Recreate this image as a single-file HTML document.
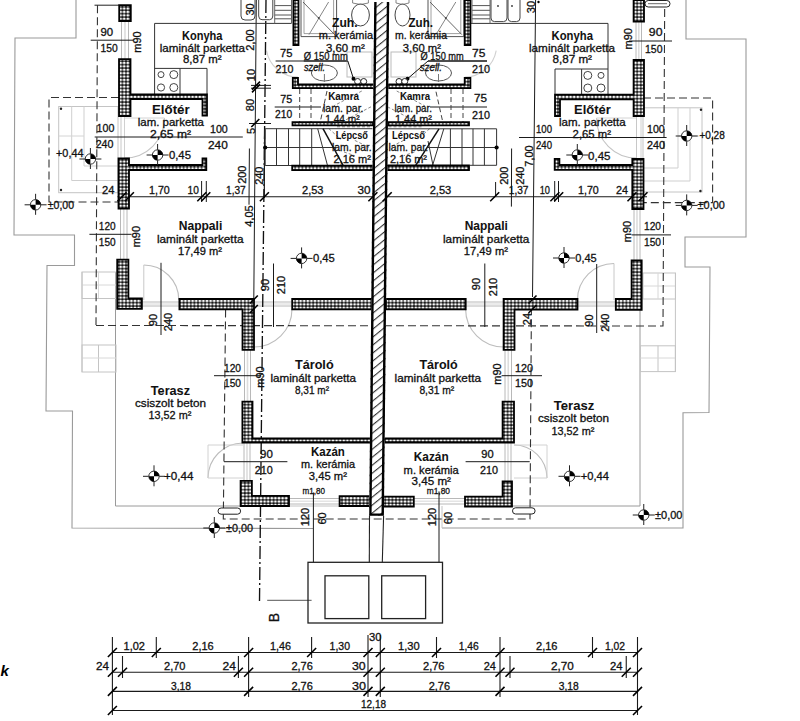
<!DOCTYPE html><html><head><meta charset="utf-8"><style>html,body{margin:0;padding:0;background:#fff;width:800px;height:721px;overflow:hidden;position:relative}</style></head><body><svg width="800" height="721" viewBox="0 0 800 721" style="position:absolute;left:0;top:0">
<defs><pattern id="hat" width="3.6" height="3.4" patternUnits="userSpaceOnUse"><rect width="3.6" height="3.4" fill="#111"/><ellipse cx="1.8" cy="1.7" rx="1.45" ry="1.3" fill="#fafafa"/></pattern><pattern id="diag" width="6.2" height="6.2" patternUnits="userSpaceOnUse" patternTransform="rotate(-39)"><rect width="6.2" height="6.2" fill="#fff"/><rect x="0" y="0" width="6.2" height="1.1" fill="#333"/></pattern></defs>
<rect width="800" height="721" fill="#fff"/>
<g font-family="Liberation Sans, sans-serif">
<polyline points="76,0 76,38 15,38 14,235 74.5,235 74.5,265.5 47,265.5 46,411 72.5,411 72,528 313,528.5" fill="none" stroke="#9a9a9a" stroke-width="1.1"/>
<polyline points="442,528 683,528 683,412.8 709,412.5 710,267 685,267 685,237 746,237 746,39 686,39 686,0" fill="none" stroke="#9a9a9a" stroke-width="1.1"/>
<polyline points="115.5,272 115.5,506 240,506" fill="none" stroke="#9a9a9a" stroke-width="1"/>
<polyline points="512,506 640,506 640,272" fill="none" stroke="#9a9a9a" stroke-width="1"/>
<line x1="289" y1="506" x2="340" y2="506" stroke="#c4c4c4" stroke-width="1"/>
<rect x="58.7" y="106.5" width="59.3" height="86.19999999999999" fill="none" stroke="#c4c4c4" stroke-width="1"/>
<rect x="643" y="107.8" width="59" height="84.2" fill="none" stroke="#c4c4c4" stroke-width="1"/>
<circle cx="61" cy="108.8" r="1.2" fill="#222"/><circle cx="61" cy="190" r="1.2" fill="#222"/>
<circle cx="701" cy="109.7" r="1.2" fill="#222"/><circle cx="700.4" cy="191" r="1.2" fill="#222"/>
<polyline points="71.7,106.5 71.7,180.5 118,180.5" fill="none" stroke="#cfcfcf" stroke-width="1"/>
<polyline points="84,106.5 84,166 118,166" fill="none" stroke="#cfcfcf" stroke-width="1"/>
<line x1="58.7" y1="136" x2="84" y2="136" stroke="#d4d4d4" stroke-width="1"/>
<polyline points="690,107.8 690,181 643,181" fill="none" stroke="#cfcfcf" stroke-width="1"/>
<polyline points="678,107.8 678,168 643,168" fill="none" stroke="#cfcfcf" stroke-width="1"/>
<line x1="678" y1="136" x2="702" y2="136" stroke="#d4d4d4" stroke-width="1"/>
<rect x="82" y="272" width="34" height="26.5" fill="none" stroke="#c4c4c4" stroke-width="1"/>
<rect x="82" y="345" width="34" height="27" fill="none" stroke="#c4c4c4" stroke-width="1"/>
<line x1="98.5" y1="345" x2="98.5" y2="372" stroke="#c4c4c4" stroke-width="1"/>
<line x1="82" y1="358" x2="116" y2="358" stroke="#d8d8d8" stroke-width="1"/>
<line x1="98.5" y1="272" x2="98.5" y2="298" stroke="#d8d8d8" stroke-width="1"/>
<line x1="82" y1="285" x2="116" y2="285" stroke="#d8d8d8" stroke-width="1"/>
<rect x="643" y="273" width="32.5" height="26" fill="none" stroke="#c4c4c4" stroke-width="1"/>
<rect x="640.5" y="345.8" width="34.89999999999998" height="25.80000000000001" fill="none" stroke="#c4c4c4" stroke-width="1"/>
<line x1="658" y1="345.8" x2="658" y2="371.6" stroke="#c4c4c4" stroke-width="1"/>
<line x1="640.5" y1="358" x2="675.4" y2="358" stroke="#d8d8d8" stroke-width="1"/>
<line x1="658" y1="273" x2="658" y2="299" stroke="#d8d8d8" stroke-width="1"/>
<line x1="643" y1="286" x2="675.5" y2="286" stroke="#d8d8d8" stroke-width="1"/>
<line x1="82" y1="272" x2="82" y2="372" stroke="#c4c4c4" stroke-width="1"/>
<line x1="675.4" y1="273" x2="675.4" y2="372" stroke="#c4c4c4" stroke-width="1"/>
<polyline points="442,506 442,528" fill="none" stroke="#c4c4c4" stroke-width="1"/>
<line x1="121.5" y1="21" x2="121.5" y2="59.2" stroke="#b8b8b8" stroke-width="1"/>
<line x1="128.5" y1="21" x2="128.5" y2="59.2" stroke="#b8b8b8" stroke-width="1"/>
<line x1="125.0" y1="21" x2="125.0" y2="59.2" stroke="#dddddd" stroke-width="1.6"/>
<line x1="121" y1="116" x2="121" y2="158.5" stroke="#c8c8c8" stroke-width="1"/>
<line x1="124.5" y1="116" x2="124.5" y2="158.5" stroke="#d0d0d0" stroke-width="1"/>
<line x1="120.5" y1="209" x2="120.5" y2="259.7" stroke="#b8b8b8" stroke-width="1"/>
<line x1="127" y1="209" x2="127" y2="259.7" stroke="#b8b8b8" stroke-width="1"/>
<line x1="123.75" y1="209" x2="123.75" y2="259.7" stroke="#dddddd" stroke-width="1.6"/>
<line x1="636" y1="21.6" x2="636" y2="60" stroke="#b8b8b8" stroke-width="1"/>
<line x1="641.5" y1="21.6" x2="641.5" y2="60" stroke="#b8b8b8" stroke-width="1"/>
<line x1="638.75" y1="21.6" x2="638.75" y2="60" stroke="#dddddd" stroke-width="1.6"/>
<line x1="636.5" y1="116" x2="636.5" y2="159" stroke="#c8c8c8" stroke-width="1"/>
<line x1="641" y1="116" x2="641" y2="159" stroke="#d0d0d0" stroke-width="1"/>
<line x1="634" y1="209" x2="634" y2="260.3" stroke="#b8b8b8" stroke-width="1"/>
<line x1="640" y1="209" x2="640" y2="260.3" stroke="#b8b8b8" stroke-width="1"/>
<line x1="637.0" y1="209" x2="637.0" y2="260.3" stroke="#dddddd" stroke-width="1.6"/>
<line x1="244.5" y1="349.8" x2="244.5" y2="401.6" stroke="#b8b8b8" stroke-width="1"/>
<line x1="250.5" y1="349.8" x2="250.5" y2="401.6" stroke="#b8b8b8" stroke-width="1"/>
<line x1="247.5" y1="349.8" x2="247.5" y2="401.6" stroke="#dddddd" stroke-width="1.6"/>
<line x1="244" y1="442.5" x2="244" y2="481" stroke="#b8b8b8" stroke-width="1"/>
<line x1="250" y1="442.5" x2="250" y2="481" stroke="#b8b8b8" stroke-width="1"/>
<line x1="247.0" y1="442.5" x2="247.0" y2="481" stroke="#dddddd" stroke-width="1.6"/>
<line x1="505" y1="349.8" x2="505" y2="401.6" stroke="#b8b8b8" stroke-width="1"/>
<line x1="511.5" y1="349.8" x2="511.5" y2="401.6" stroke="#b8b8b8" stroke-width="1"/>
<line x1="508.25" y1="349.8" x2="508.25" y2="401.6" stroke="#dddddd" stroke-width="1.6"/>
<line x1="505" y1="442.5" x2="505" y2="481.3" stroke="#b8b8b8" stroke-width="1"/>
<line x1="511" y1="442.5" x2="511" y2="481.3" stroke="#b8b8b8" stroke-width="1"/>
<line x1="508.0" y1="442.5" x2="508.0" y2="481.3" stroke="#dddddd" stroke-width="1.6"/>
<line x1="289" y1="498.5" x2="339.6" y2="498.5" stroke="#b8b8b8" stroke-width="1"/>
<line x1="289" y1="504" x2="339.6" y2="504" stroke="#b8b8b8" stroke-width="1"/>
<line x1="289" y1="501.25" x2="339.6" y2="501.25" stroke="#e4e4e4" stroke-width="1.6"/>
<line x1="413.8" y1="498.5" x2="465" y2="498.5" stroke="#b8b8b8" stroke-width="1"/>
<line x1="413.8" y1="504" x2="465" y2="504" stroke="#b8b8b8" stroke-width="1"/>
<line x1="413.8" y1="501.25" x2="465" y2="501.25" stroke="#e4e4e4" stroke-width="1.6"/>
<line x1="141.9" y1="302" x2="179.4" y2="302" stroke="#b8b8b8" stroke-width="1"/>
<line x1="141.9" y1="306" x2="179.4" y2="306" stroke="#b8b8b8" stroke-width="1"/>
<line x1="141.9" y1="304.0" x2="179.4" y2="304.0" stroke="#e4e4e4" stroke-width="1.6"/>
<line x1="254" y1="302" x2="292.2" y2="302" stroke="#b8b8b8" stroke-width="1"/>
<line x1="254" y1="306" x2="292.2" y2="306" stroke="#b8b8b8" stroke-width="1"/>
<line x1="254" y1="304.0" x2="292.2" y2="304.0" stroke="#e4e4e4" stroke-width="1.6"/>
<line x1="465.7" y1="302" x2="503.6" y2="302" stroke="#b8b8b8" stroke-width="1"/>
<line x1="465.7" y1="306" x2="503.6" y2="306" stroke="#b8b8b8" stroke-width="1"/>
<line x1="465.7" y1="304.0" x2="503.6" y2="304.0" stroke="#e4e4e4" stroke-width="1.6"/>
<line x1="577.5" y1="302" x2="615.8" y2="302" stroke="#b8b8b8" stroke-width="1"/>
<line x1="577.5" y1="306" x2="615.8" y2="306" stroke="#b8b8b8" stroke-width="1"/>
<line x1="577.5" y1="304.0" x2="615.8" y2="304.0" stroke="#e4e4e4" stroke-width="1.6"/>
<path d="M143.8,265.0 A35,35 0 0 1 178.8,300.0" fill="none" stroke="#bdbdbd" stroke-width="1.1"/>
<line x1="143.8" y1="265" x2="143.8" y2="300" stroke="#c8c8c8" stroke-width="1"/>
<path d="M577.5,300.0 A36.5,36.5 0 0 1 614.0,263.5" fill="none" stroke="#bdbdbd" stroke-width="1.1"/>
<line x1="614" y1="263.5" x2="614" y2="300" stroke="#c8c8c8" stroke-width="1"/>
<path d="M292.0,309.0 A38,38 0 0 1 254.0,347.0" fill="none" stroke="#bdbdbd" stroke-width="1.1"/>
<path d="M503.6,347.0 A38,38 0 0 1 465.6,309.0" fill="none" stroke="#bdbdbd" stroke-width="1.1"/>
<path d="M208.0,478.0 A35,35 0 0 1 243.0,443.0" fill="none" stroke="#bdbdbd" stroke-width="1.1"/>
<polyline points="243,445 208,445 208,478 243,478" fill="none" stroke="#d2d2d2" stroke-width="1"/>
<path d="M514.0,445.0 A33,33 0 0 1 547.0,478.0" fill="none" stroke="#bdbdbd" stroke-width="1.1"/>
<polyline points="514,445 547,445 547,478 514,478" fill="none" stroke="#d2d2d2" stroke-width="1"/>
<path d="M164.5,118.0 A40,40 0 0 1 124.5,158.0" fill="none" stroke="#c4c4c4" stroke-width="1.1"/>
<line x1="124.5" y1="118" x2="164.5" y2="118" stroke="#d4d4d4" stroke-width="1"/>
<path d="M636.5,158.0 A40,40 0 0 1 596.5,118.0" fill="none" stroke="#c4c4c4" stroke-width="1.1"/>
<line x1="596.5" y1="118" x2="636.5" y2="118" stroke="#d4d4d4" stroke-width="1"/>
<path d="M298.0,77.0 A32,32 0 0 1 266.5,50.6" fill="none" stroke="#d0d0d0" stroke-width="1.1"/>
<path d="M496.2,50.6 A32,32 0 0 1 464.7,77.0" fill="none" stroke="#d0d0d0" stroke-width="1.1"/>
<line x1="97.5" y1="5.2" x2="96" y2="325" stroke="#333" stroke-width="1.1" stroke-dasharray="8,4"/>
<line x1="94.5" y1="5.2" x2="119" y2="5.2" stroke="#222" stroke-width="1"/>
<polyline points="119,97.5 49,97.5 49,202 118,202" fill="none" stroke="#333" stroke-width="1.1" stroke-dasharray="8,4"/>
<polyline points="96,325.5 663,326 664.7,0" fill="none" stroke="#333" stroke-width="1.1" stroke-dasharray="8,4"/>
<polyline points="643,98 712.6,98 712.6,202.6 643,202.6" fill="none" stroke="#333" stroke-width="1.1" stroke-dasharray="8,4"/>
<polyline points="225.6,309.4 223.3,519 530,519 531.4,309.6" fill="none" stroke="#333" stroke-width="1.1" stroke-dasharray="8,4"/>
<line x1="266" y1="0" x2="259.5" y2="601" stroke="#111" stroke-width="1.35" stroke-dasharray="13,3,2,3"/>
<line x1="267.2" y1="600.3" x2="311.6" y2="600.3" stroke="#555" stroke-width="1"/>
<line x1="256.3" y1="0" x2="253.8" y2="299" stroke="#1a1a1a" stroke-width="1"/>
<line x1="535.6" y1="0" x2="532.5" y2="297" stroke="#1a1a1a" stroke-width="1"/>
<circle cx="538.5" cy="2" r="1.2" fill="#000"/>
<line x1="249.4" y1="148.5" x2="249" y2="204.7" stroke="#1a1a1a" stroke-width="1"/>
<line x1="264.6" y1="129.7" x2="264.3" y2="198" stroke="#1a1a1a" stroke-width="1.2"/>
<line x1="511.6" y1="148.5" x2="511.4" y2="206.6" stroke="#1a1a1a" stroke-width="1"/>
<line x1="495.6" y1="182" x2="495.6" y2="196.7" stroke="#1a1a1a" stroke-width="1"/>
<line x1="161" y1="262.8" x2="161" y2="335" stroke="#1a1a1a" stroke-width="1"/>
<line x1="596.7" y1="264" x2="596.7" y2="333" stroke="#1a1a1a" stroke-width="1"/>
<line x1="273.5" y1="263.5" x2="273.5" y2="327" stroke="#1a1a1a" stroke-width="1"/>
<line x1="484.8" y1="263.5" x2="484.8" y2="327" stroke="#1a1a1a" stroke-width="1"/>
<line x1="313.4" y1="492.5" x2="313.4" y2="562.3" stroke="#1a1a1a" stroke-width="1"/>
<line x1="439" y1="491.4" x2="439" y2="562.3" stroke="#1a1a1a" stroke-width="1"/>
<line x1="90.7" y1="40.2" x2="133.5" y2="40.2" stroke="#1a1a1a" stroke-width="1"/>
<line x1="629" y1="41" x2="672" y2="41" stroke="#1a1a1a" stroke-width="1"/>
<line x1="94.7" y1="137" x2="242.8" y2="137" stroke="#1a1a1a" stroke-width="1"/>
<line x1="519" y1="137.5" x2="666.6" y2="137.5" stroke="#1a1a1a" stroke-width="1"/>
<line x1="89.4" y1="234.3" x2="131.6" y2="234.3" stroke="#1a1a1a" stroke-width="1"/>
<line x1="631.6" y1="234.9" x2="671" y2="234.9" stroke="#1a1a1a" stroke-width="1"/>
<line x1="275.6" y1="61" x2="347.8" y2="61" stroke="#1a1a1a" stroke-width="1"/>
<line x1="428" y1="61" x2="487" y2="61" stroke="#1a1a1a" stroke-width="1"/>
<line x1="274.7" y1="107" x2="321" y2="107" stroke="#1a1a1a" stroke-width="1"/>
<line x1="430" y1="107" x2="487" y2="107" stroke="#1a1a1a" stroke-width="1"/>
<line x1="117.5" y1="196.7" x2="647" y2="196.7" stroke="#1a1a1a" stroke-width="1.1"/>
<line x1="214" y1="375.7" x2="261" y2="375.7" stroke="#1a1a1a" stroke-width="1"/>
<line x1="501.6" y1="375.7" x2="542" y2="375.7" stroke="#1a1a1a" stroke-width="1"/>
<line x1="224" y1="461.7" x2="287.4" y2="461.7" stroke="#1a1a1a" stroke-width="1"/>
<line x1="465.6" y1="461.7" x2="529.7" y2="461.7" stroke="#1a1a1a" stroke-width="1"/>
<line x1="201.6" y1="181" x2="201.6" y2="202" stroke="#1a1a1a" stroke-width="1"/>
<line x1="206.3" y1="181" x2="206.3" y2="202" stroke="#1a1a1a" stroke-width="1"/>
<line x1="554.7" y1="181" x2="554.7" y2="202" stroke="#1a1a1a" stroke-width="1"/>
<line x1="558.5" y1="181" x2="558.5" y2="202" stroke="#1a1a1a" stroke-width="1"/>
<line x1="251" y1="85.4" x2="271" y2="85.4" stroke="#1a1a1a" stroke-width="1"/>
<line x1="251" y1="88.2" x2="271" y2="88.2" stroke="#1a1a1a" stroke-width="1"/>
<line x1="249" y1="123.5" x2="271" y2="123.5" stroke="#1a1a1a" stroke-width="1"/>
<polyline points="154.6,94 154.6,23.4 291.5,23.4" fill="none" stroke="#333" stroke-width="1"/>
<polyline points="154.6,68.4 207,68.4 207,94" fill="none" stroke="#333" stroke-width="1"/>
<line x1="180" y1="68.4" x2="180" y2="94" stroke="#333" stroke-width="1"/>
<circle cx="161" cy="74.6" r="3" fill="none" stroke="#444" stroke-width="1"/>
<circle cx="173.8" cy="74.6" r="4" fill="none" stroke="#444" stroke-width="1"/>
<circle cx="161" cy="87.5" r="3.6" fill="none" stroke="#444" stroke-width="1"/>
<circle cx="173.8" cy="87.5" r="4" fill="none" stroke="#444" stroke-width="1"/>
<path d="M241,0 L241,16 Q241,20 245,20 L251,20 Q255,20 255,16 L255,0" fill="none" stroke="#444" stroke-width="1"/>
<path d="M258.7,0 L258.7,16 Q258.7,19.7 262,19.7 L269.5,19.7 Q272.8,19.7 272.8,16 L272.8,0" fill="none" stroke="#444" stroke-width="1"/>
<line x1="274.7" y1="5.6" x2="291.5" y2="5.6" stroke="#555" stroke-width="1"/>
<line x1="274.7" y1="10.3" x2="291.5" y2="10.3" stroke="#555" stroke-width="1"/>
<line x1="274.7" y1="15" x2="291.5" y2="15" stroke="#555" stroke-width="1"/>
<line x1="274.7" y1="18.8" x2="291.5" y2="18.8" stroke="#555" stroke-width="1"/>
<line x1="274.7" y1="0" x2="274.7" y2="23.4" stroke="#666" stroke-width="1"/>
<line x1="291.5" y1="0" x2="291.5" y2="23.4" stroke="#666" stroke-width="1"/>
<polyline points="470,23.4 608,23.4 608,94" fill="none" stroke="#333" stroke-width="1"/>
<polyline points="555,94 555,69 608,69" fill="none" stroke="#333" stroke-width="1"/>
<line x1="581.6" y1="69" x2="581.6" y2="94" stroke="#333" stroke-width="1"/>
<circle cx="587.8" cy="75.4" r="4" fill="none" stroke="#444" stroke-width="1"/>
<circle cx="601" cy="75.4" r="3" fill="none" stroke="#444" stroke-width="1"/>
<circle cx="587.8" cy="88" r="4" fill="none" stroke="#444" stroke-width="1"/>
<circle cx="601" cy="88" r="4" fill="none" stroke="#444" stroke-width="1"/>
<line x1="472" y1="5.6" x2="490" y2="5.6" stroke="#555" stroke-width="1"/>
<line x1="472" y1="10.3" x2="490" y2="10.3" stroke="#555" stroke-width="1"/>
<line x1="472" y1="15" x2="490" y2="15" stroke="#555" stroke-width="1"/>
<line x1="472" y1="18.8" x2="490" y2="18.8" stroke="#555" stroke-width="1"/>
<line x1="472" y1="0" x2="472" y2="23.4" stroke="#666" stroke-width="1"/>
<line x1="490" y1="0" x2="490" y2="23.4" stroke="#666" stroke-width="1"/>
<path d="M491,0 L491,18 Q491,21.6 494.5,21.6 L503.5,21.6 Q507,21.6 507,18 L507,0" fill="none" stroke="#444" stroke-width="1"/>
<path d="M508,0 L508,18 Q508,21.6 511.5,21.6 L516.5,21.6 Q520,21.6 520,18 L520,0" fill="none" stroke="#444" stroke-width="1"/>
<circle cx="498" cy="6" r="0.9" fill="#333"/><circle cx="512" cy="6" r="0.9" fill="#333"/>
<rect x="645" y="0.5" width="25" height="6.5" rx="3.2" fill="#fff" stroke="#222" stroke-width="1"/>
<line x1="648" y1="3.7" x2="667" y2="3.7" stroke="#444" stroke-width="0.8"/>
<rect x="218" y="508" width="22.6" height="6.2" rx="3.1" fill="#fff" stroke="#222" stroke-width="1"/>
<rect x="512.5" y="507.8" width="22.6" height="6.2" rx="3.1" fill="#fff" stroke="#222" stroke-width="1"/>
<path d="M301,0 L301,36.6 L336.6,36.6 L336.6,0" fill="none" stroke="#555" stroke-width="1"/>
<path d="M304,0 L304,33.6 L333.6,33.6 L333.6,0" fill="none" stroke="#888" stroke-width="0.8"/>
<line x1="303" y1="2" x2="334.6" y2="34.6" stroke="#555" stroke-width="0.9"/>
<line x1="328.6" y1="2" x2="309" y2="34.6" stroke="#777" stroke-width="0.9"/>
<circle cx="318.8" cy="18" r="1" fill="#444"/>
<path d="M428,0 L428,36.6 L463.8,36.6 L463.8,0" fill="none" stroke="#555" stroke-width="1"/>
<path d="M431,0 L431,33.6 L460.8,33.6 L460.8,0" fill="none" stroke="#888" stroke-width="0.8"/>
<line x1="430" y1="2" x2="461.8" y2="34.6" stroke="#555" stroke-width="0.9"/>
<line x1="455.8" y1="2" x2="436" y2="34.6" stroke="#777" stroke-width="0.9"/>
<circle cx="445.9" cy="18" r="1" fill="#444"/>
<ellipse cx="360.5" cy="15" rx="8.899999999999977" ry="11" fill="none" stroke="#444" stroke-width="1"/>
<path d="M352.6,0 L352.6,3 Q360.5,6 368.4,3 L368.4,0" fill="none" stroke="#777" stroke-width="0.9"/>
<ellipse cx="402.5" cy="15" rx="7.5" ry="11" fill="none" stroke="#444" stroke-width="1"/>
<path d="M396,0 L396,3 Q402.5,6 409,3 L409,0" fill="none" stroke="#777" stroke-width="0.9"/>
<ellipse cx="324.4" cy="73" rx="13" ry="8" fill="none" stroke="#555" stroke-width="1"/>
<line x1="324.4" y1="74" x2="324.4" y2="82" stroke="#777" stroke-width="1"/>
<ellipse cx="438.5" cy="73" rx="13" ry="8" fill="none" stroke="#555" stroke-width="1"/>
<line x1="438.5" y1="74" x2="438.5" y2="82" stroke="#777" stroke-width="1"/>
<rect x="347" y="52" width="25" height="25" fill="none" stroke="#bbb" stroke-width="1"/>
<rect x="391" y="52" width="25" height="25" fill="none" stroke="#bbb" stroke-width="1"/>
<polyline points="303.8,61 347.8,61 353.5,78.8" fill="none" stroke="#111" stroke-width="1"/>
<polyline points="487,61 428,61 407.5,78.8" fill="none" stroke="#111" stroke-width="1"/>
<circle cx="353.5" cy="78.8" r="2" fill="#000"/><circle cx="407.5" cy="78.8" r="2" fill="#000"/>
<circle cx="357.6" cy="81.5" r="3" fill="#fff" stroke="#222" stroke-width="1"/>
<circle cx="363.7" cy="81.5" r="3" fill="#fff" stroke="#222" stroke-width="1"/>
<circle cx="399" cy="81.5" r="3" fill="#fff" stroke="#222" stroke-width="1"/>
<circle cx="404.7" cy="81.5" r="3" fill="#fff" stroke="#222" stroke-width="1"/>
<line x1="299.7" y1="89" x2="299.7" y2="122" stroke="#444" stroke-width="1" stroke-dasharray="5,3"/>
<line x1="311" y1="89" x2="311" y2="122" stroke="#444" stroke-width="1" stroke-dasharray="5,3"/>
<line x1="451" y1="89" x2="451" y2="122" stroke="#444" stroke-width="1" stroke-dasharray="5,3"/>
<line x1="463" y1="89" x2="463" y2="122" stroke="#444" stroke-width="1" stroke-dasharray="5,3"/>
<line x1="327" y1="91" x2="320" y2="123" stroke="#444" stroke-width="1" stroke-dasharray="5,3"/>
<line x1="436" y1="91.7" x2="443" y2="123" stroke="#444" stroke-width="1" stroke-dasharray="5,3"/>
<line x1="361.8" y1="91" x2="333.5" y2="106" stroke="#8a8a8a" stroke-width="1" stroke-dasharray="3,2"/>
<line x1="396.7" y1="91" x2="425.0" y2="106" stroke="#8a8a8a" stroke-width="1" stroke-dasharray="3,2"/>
<line x1="371" y1="106.8" x2="345" y2="120.3" stroke="#8a8a8a" stroke-width="1" stroke-dasharray="3,2"/>
<line x1="387.5" y1="106.8" x2="413.5" y2="120.3" stroke="#8a8a8a" stroke-width="1" stroke-dasharray="3,2"/>
<line x1="337" y1="126.8" x2="372" y2="126.8" stroke="#8a8a8a" stroke-width="1" stroke-dasharray="3,2"/>
<line x1="421.5" y1="126.8" x2="386.5" y2="126.8" stroke="#8a8a8a" stroke-width="1" stroke-dasharray="3,2"/>
<line x1="328.8" y1="128.6" x2="340.6" y2="139.2" stroke="#8a8a8a" stroke-width="1" stroke-dasharray="3,2"/>
<line x1="429.7" y1="128.6" x2="417.9" y2="139.2" stroke="#8a8a8a" stroke-width="1" stroke-dasharray="3,2"/>
<line x1="354.8" y1="140.4" x2="368.9" y2="147.4" stroke="#8a8a8a" stroke-width="1" stroke-dasharray="3,2"/>
<line x1="403.7" y1="140.4" x2="389.6" y2="147.4" stroke="#8a8a8a" stroke-width="1" stroke-dasharray="3,2"/>
<line x1="344" y1="152" x2="354.8" y2="155.7" stroke="#8a8a8a" stroke-width="1" stroke-dasharray="3,2"/>
<line x1="414.5" y1="152" x2="403.7" y2="155.7" stroke="#8a8a8a" stroke-width="1" stroke-dasharray="3,2"/>
<polyline points="292,128.7 265.2,128.7 265.2,165.5 292,165.5" fill="none" stroke="#333" stroke-width="1"/>
<line x1="265.2" y1="147.5" x2="336" y2="147.5" stroke="#333" stroke-width="1"/>
<line x1="276.5" y1="128.7" x2="276.5" y2="165.5" stroke="#333" stroke-width="1"/>
<line x1="288.5" y1="128.7" x2="288.5" y2="165.5" stroke="#333" stroke-width="1"/>
<line x1="299.7" y1="128.7" x2="299.7" y2="165.5" stroke="#333" stroke-width="1"/>
<line x1="311.7" y1="128.7" x2="311.7" y2="165.5" stroke="#333" stroke-width="1"/>
<line x1="292" y1="128.7" x2="372.5" y2="128.7" stroke="#333" stroke-width="1"/>
<line x1="317.7" y1="128.7" x2="327.5" y2="165.5" stroke="#333" stroke-width="1"/>
<line x1="323" y1="128.7" x2="343.2" y2="165.5" stroke="#111" stroke-width="1.5"/>
<circle cx="265.2" cy="147.5" r="2.1" fill="#000"/>
<line x1="268" y1="165.5" x2="292" y2="165.5" stroke="#333" stroke-width="1"/>
<polyline points="470,128.8 496.6,128.8 496.6,165.3 470,165.3" fill="none" stroke="#333" stroke-width="1"/>
<line x1="428" y1="147.5" x2="496.6" y2="147.5" stroke="#333" stroke-width="1"/>
<line x1="428" y1="141" x2="433" y2="165.3" stroke="#333" stroke-width="1"/>
<line x1="450.4" y1="128.8" x2="450.4" y2="165.3" stroke="#333" stroke-width="1"/>
<line x1="462" y1="128.8" x2="462" y2="165.3" stroke="#333" stroke-width="1"/>
<line x1="473" y1="128.8" x2="473" y2="165.3" stroke="#333" stroke-width="1"/>
<line x1="484.4" y1="128.8" x2="484.4" y2="165.3" stroke="#333" stroke-width="1"/>
<line x1="387.5" y1="128.8" x2="470" y2="128.8" stroke="#333" stroke-width="1"/>
<line x1="443.8" y1="128.8" x2="432.6" y2="165.3" stroke="#333" stroke-width="1"/>
<line x1="439" y1="128.8" x2="415.7" y2="165.3" stroke="#111" stroke-width="1.5"/>
<circle cx="496.6" cy="147.5" r="2.1" fill="#000"/>
<polygon points="119.2,5.2 130.8,5.2 130.8,21 119.2,21" fill="url(#hat)" stroke="#000" stroke-width="1.8"/>
<polygon points="119,59.2 130.5,59.2 130.5,94.5 207,94.5 207,115.6 202.5,115.6 202.5,99 130.5,99 130.5,116 119,116" fill="url(#hat)" stroke="#000" stroke-width="1.8"/>
<polygon points="118.5,158.5 129,158.5 129,165 202.5,165 202.5,158.4 206.3,158.4 206.3,170 129,170 129,208.6 118.5,208.6" fill="url(#hat)" stroke="#000" stroke-width="1.8"/>
<polygon points="117.2,259.7 128.4,259.7 128.4,298.5 141.9,298.5 141.9,308.8 117.2,308.8" fill="url(#hat)" stroke="#000" stroke-width="1.8"/>
<polygon points="179.4,299 254,299 254,349.8 242.5,349.8 242.5,309.4 179.4,309.4" fill="url(#hat)" stroke="#000" stroke-width="1.8"/>
<polygon points="292.2,299 372,299 372,309.4 292.2,309.4" fill="url(#hat)" stroke="#000" stroke-width="1.8"/>
<polygon points="242.4,401.6 252.5,401.6 252.5,438.5 371,438.5 371,442.5 242.4,442.5" fill="url(#hat)" stroke="#000" stroke-width="1.8"/>
<polygon points="240.6,480.8 251.9,480.8 251.9,495.9 289,495.9 289,506 240.6,506" fill="url(#hat)" stroke="#000" stroke-width="1.8"/>
<polygon points="339.6,496.2 369.5,496.2 369.5,506 339.6,506" fill="url(#hat)" stroke="#000" stroke-width="1.8"/>
<polygon points="293.4,0 298.5,0 298.5,45 293.4,45" fill="url(#hat)" stroke="#000" stroke-width="1.8"/>
<polygon points="292.8,77.8 298,77.8 298,84.4 374,84.4 374,88.2 292.8,88.2" fill="url(#hat)" stroke="#000" stroke-width="1.8"/>
<polygon points="292.5,122.2 373,122.2 373,125.4 292.5,125.4" fill="url(#hat)" stroke="#000" stroke-width="1.8"/>
<polygon points="292.2,165.6 372.7,165.6 372.7,170.2 292.2,170.2" fill="url(#hat)" stroke="#000" stroke-width="1.8"/>
<polygon points="633.6,0 644,0 644,21.6 633.6,21.6" fill="url(#hat)" stroke="#000" stroke-width="1.8"/>
<polygon points="633.6,60 644,60 644,116 633.6,116 633.6,99.4 560,99.4 560,116 555,116 555,94.7 633.6,94.7" fill="url(#hat)" stroke="#000" stroke-width="1.8"/>
<polygon points="632.3,159 643.5,159 643.5,209 632.3,209 632.3,169.9 559.4,169.9 554.7,169.9 554.7,158.8 559.4,158.8 559.4,165 632.3,165" fill="url(#hat)" stroke="#000" stroke-width="1.8"/>
<polygon points="631.6,260.3 641.7,260.3 641.7,309.8 615.8,309.8 615.8,299 631.6,299" fill="url(#hat)" stroke="#000" stroke-width="1.8"/>
<polygon points="503.6,299 577.5,299 577.5,309.6 514.5,309.6 514.5,349.8 503.6,349.8" fill="url(#hat)" stroke="#000" stroke-width="1.8"/>
<polygon points="386,299 465.7,299 465.7,309.4 386,309.4" fill="url(#hat)" stroke="#000" stroke-width="1.8"/>
<polygon points="502.6,401.6 514,401.6 514,442.5 384.5,442.5 384.5,438.5 502.6,438.5" fill="url(#hat)" stroke="#000" stroke-width="1.8"/>
<polygon points="465,496.6 502.6,496.6 502.6,481.3 512,481.3 512,506.5 465,506.5" fill="url(#hat)" stroke="#000" stroke-width="1.8"/>
<polygon points="383,496.6 413.8,496.6 413.8,506.5 383,506.5" fill="url(#hat)" stroke="#000" stroke-width="1.8"/>
<polygon points="464.7,0 470.4,0 470.4,45 464.7,45" fill="url(#hat)" stroke="#000" stroke-width="1.8"/>
<polygon points="464.7,78 470.4,78 470.4,88.2 388.5,88.2 388.5,84.4 464.7,84.4" fill="url(#hat)" stroke="#000" stroke-width="1.8"/>
<polygon points="388,122.2 469,122.2 469,125.4 388,125.4" fill="url(#hat)" stroke="#000" stroke-width="1.8"/>
<polygon points="387.5,165.5 469,165.5 469,170.2 387.5,170.2" fill="url(#hat)" stroke="#000" stroke-width="1.8"/>
<polygon points="374.2,2 389.2,2 383.9,515.8 369.2,515.8" fill="url(#diag)" stroke="none"/>
<polyline points="375.4,2 370.4,514.6 382.7,514.6 388,2" fill="none" stroke="#000" stroke-width="2.4"/>
<line x1="369.5" y1="515.8" x2="369.3" y2="562.3" stroke="#222" stroke-width="1.1"/>
<line x1="383.6" y1="515.8" x2="382.3" y2="562.3" stroke="#222" stroke-width="1.1"/>
<rect x="308" y="562.3" width="134.5" height="60.700000000000045" fill="none" stroke="#222" stroke-width="1.3"/>
<rect x="325" y="575.8" width="43.80000000000001" height="42.80000000000007" fill="none" stroke="#222" stroke-width="1.3"/>
<rect x="381.7" y="575.8" width="43.900000000000034" height="42.80000000000007" fill="none" stroke="#222" stroke-width="1.3"/>
<g><line x1="79.4" y1="159" x2="101.4" y2="159" stroke="#222" stroke-width="1"/><line x1="90.4" y1="148" x2="90.4" y2="169" stroke="#222" stroke-width="1"/><circle cx="90.4" cy="159" r="5.2" fill="#fff" stroke="#333" stroke-width="1"/><path d="M90.4,159 L90.4,153.8 A5.2,5.2 0 0 1 95.60000000000001,159 Z" fill="#000"/><path d="M90.4,159 L90.4,164.2 A5.2,5.2 0 0 1 85.2,159 Z" fill="#000"/></g>
<g><line x1="24.6" y1="204.8" x2="46.6" y2="204.8" stroke="#222" stroke-width="1"/><line x1="35.6" y1="193.8" x2="35.6" y2="214.8" stroke="#222" stroke-width="1"/><circle cx="35.6" cy="204.8" r="5.2" fill="#fff" stroke="#333" stroke-width="1"/><path d="M35.6,204.8 L35.6,199.60000000000002 A5.2,5.2 0 0 1 40.800000000000004,204.8 Z" fill="#000"/><path d="M35.6,204.8 L35.6,210.0 A5.2,5.2 0 0 1 30.400000000000002,204.8 Z" fill="#000"/></g>
<g><line x1="146.6" y1="155" x2="168.6" y2="155" stroke="#222" stroke-width="1"/><line x1="157.6" y1="144" x2="157.6" y2="165" stroke="#222" stroke-width="1"/><circle cx="157.6" cy="155" r="5.2" fill="#fff" stroke="#333" stroke-width="1"/><path d="M157.6,155 L157.6,149.8 A5.2,5.2 0 0 1 162.79999999999998,155 Z" fill="#000"/><path d="M157.6,155 L157.6,160.2 A5.2,5.2 0 0 1 152.4,155 Z" fill="#000"/></g>
<g><line x1="290.6" y1="258.4" x2="312.6" y2="258.4" stroke="#222" stroke-width="1"/><line x1="301.6" y1="247.39999999999998" x2="301.6" y2="268.4" stroke="#222" stroke-width="1"/><circle cx="301.6" cy="258.4" r="5.2" fill="#fff" stroke="#333" stroke-width="1"/><path d="M301.6,258.4 L301.6,253.2 A5.2,5.2 0 0 1 306.8,258.4 Z" fill="#000"/><path d="M301.6,258.4 L301.6,263.59999999999997 A5.2,5.2 0 0 1 296.40000000000003,258.4 Z" fill="#000"/></g>
<g><line x1="143" y1="476.3" x2="165" y2="476.3" stroke="#222" stroke-width="1"/><line x1="154" y1="465.3" x2="154" y2="486.3" stroke="#222" stroke-width="1"/><circle cx="154" cy="476.3" r="5.2" fill="#fff" stroke="#333" stroke-width="1"/><path d="M154,476.3 L154,471.1 A5.2,5.2 0 0 1 159.2,476.3 Z" fill="#000"/><path d="M154,476.3 L154,481.5 A5.2,5.2 0 0 1 148.8,476.3 Z" fill="#000"/></g>
<g><line x1="203.3" y1="528" x2="225.3" y2="528" stroke="#222" stroke-width="1"/><line x1="214.3" y1="517" x2="214.3" y2="538" stroke="#222" stroke-width="1"/><circle cx="214.3" cy="528" r="5.2" fill="#fff" stroke="#333" stroke-width="1"/><path d="M214.3,528 L214.3,522.8 A5.2,5.2 0 0 1 219.5,528 Z" fill="#000"/><path d="M214.3,528 L214.3,533.2 A5.2,5.2 0 0 1 209.10000000000002,528 Z" fill="#000"/></g>
<g><line x1="566.3" y1="155" x2="588.3" y2="155" stroke="#222" stroke-width="1"/><line x1="577.3" y1="144" x2="577.3" y2="165" stroke="#222" stroke-width="1"/><circle cx="577.3" cy="155" r="5.2" fill="#fff" stroke="#333" stroke-width="1"/><path d="M577.3,155 L577.3,149.8 A5.2,5.2 0 0 1 582.5,155 Z" fill="#000"/><path d="M577.3,155 L577.3,160.2 A5.2,5.2 0 0 1 572.0999999999999,155 Z" fill="#000"/></g>
<g><line x1="675.7" y1="136" x2="697.7" y2="136" stroke="#222" stroke-width="1"/><line x1="686.7" y1="125" x2="686.7" y2="146" stroke="#222" stroke-width="1"/><circle cx="686.7" cy="136" r="5.2" fill="#fff" stroke="#333" stroke-width="1"/><path d="M686.7,136 L686.7,130.8 A5.2,5.2 0 0 1 691.9000000000001,136 Z" fill="#000"/><path d="M686.7,136 L686.7,141.2 A5.2,5.2 0 0 1 681.5,136 Z" fill="#000"/></g>
<g><line x1="675.7" y1="205.4" x2="697.7" y2="205.4" stroke="#222" stroke-width="1"/><line x1="686.7" y1="194.4" x2="686.7" y2="215.4" stroke="#222" stroke-width="1"/><circle cx="686.7" cy="205.4" r="5.2" fill="#fff" stroke="#333" stroke-width="1"/><path d="M686.7,205.4 L686.7,200.20000000000002 A5.2,5.2 0 0 1 691.9000000000001,205.4 Z" fill="#000"/><path d="M686.7,205.4 L686.7,210.6 A5.2,5.2 0 0 1 681.5,205.4 Z" fill="#000"/></g>
<g><line x1="553" y1="258" x2="575" y2="258" stroke="#222" stroke-width="1"/><line x1="564" y1="247" x2="564" y2="268" stroke="#222" stroke-width="1"/><circle cx="564" cy="258" r="5.2" fill="#fff" stroke="#333" stroke-width="1"/><path d="M564,258 L564,252.8 A5.2,5.2 0 0 1 569.2,258 Z" fill="#000"/><path d="M564,258 L564,263.2 A5.2,5.2 0 0 1 558.8,258 Z" fill="#000"/></g>
<g><line x1="558.5" y1="476.3" x2="580.5" y2="476.3" stroke="#222" stroke-width="1"/><line x1="569.5" y1="465.3" x2="569.5" y2="486.3" stroke="#222" stroke-width="1"/><circle cx="569.5" cy="476.3" r="5.2" fill="#fff" stroke="#333" stroke-width="1"/><path d="M569.5,476.3 L569.5,471.1 A5.2,5.2 0 0 1 574.7,476.3 Z" fill="#000"/><path d="M569.5,476.3 L569.5,481.5 A5.2,5.2 0 0 1 564.3,476.3 Z" fill="#000"/></g>
<g><line x1="632.75" y1="515" x2="654.75" y2="515" stroke="#222" stroke-width="1"/><line x1="643.75" y1="504" x2="643.75" y2="525" stroke="#222" stroke-width="1"/><circle cx="643.75" cy="515" r="5.2" fill="#fff" stroke="#333" stroke-width="1"/><path d="M643.75,515 L643.75,509.8 A5.2,5.2 0 0 1 648.95,515 Z" fill="#000"/><path d="M643.75,515 L643.75,520.2 A5.2,5.2 0 0 1 638.55,515 Z" fill="#000"/></g>
<text x="182" y="40" font-size="12.5" font-weight="bold" font-style="normal" fill="#111" stroke="#111" stroke-width="0.05" textLength="40.5" lengthAdjust="spacingAndGlyphs">Konyha</text>
<text x="159.7" y="52.2" font-size="11" font-weight="normal" font-style="normal" fill="#111" stroke="#111" stroke-width="0.3" textLength="85.3" lengthAdjust="spacingAndGlyphs">laminált parketta</text>
<text x="183" y="63.4" font-size="11" font-weight="normal" font-style="normal" fill="#111" stroke="#111" stroke-width="0.3" textLength="38.6" lengthAdjust="spacingAndGlyphs">8,87 m²</text>
<text x="551.6" y="40" font-size="12.5" font-weight="bold" font-style="normal" fill="#111" stroke="#111" stroke-width="0.05" textLength="41.3" lengthAdjust="spacingAndGlyphs">Konyha</text>
<text x="529" y="52.2" font-size="11" font-weight="normal" font-style="normal" fill="#111" stroke="#111" stroke-width="0.3" textLength="86.0" lengthAdjust="spacingAndGlyphs">laminált parketta</text>
<text x="552.5" y="63.4" font-size="11" font-weight="normal" font-style="normal" fill="#111" stroke="#111" stroke-width="0.3" textLength="39.5" lengthAdjust="spacingAndGlyphs">8,87 m²</text>
<text x="152" y="114.4" font-size="12.5" font-weight="bold" font-style="normal" fill="#111" stroke="#111" stroke-width="0.05" textLength="37.7" lengthAdjust="spacingAndGlyphs">Előtér</text>
<text x="137.8" y="126" font-size="11" font-weight="normal" font-style="normal" fill="#111" stroke="#111" stroke-width="0.3" textLength="66.2" lengthAdjust="spacingAndGlyphs">lam. parketta</text>
<text x="150" y="137.8" font-size="11" font-weight="normal" font-style="normal" fill="#111" stroke="#111" stroke-width="0.3" textLength="41.0" lengthAdjust="spacingAndGlyphs">2,65 m²</text>
<text x="574" y="114.4" font-size="12.5" font-weight="bold" font-style="normal" fill="#111" stroke="#111" stroke-width="0.05" textLength="36.7" lengthAdjust="spacingAndGlyphs">Előtér</text>
<text x="559" y="126" font-size="11" font-weight="normal" font-style="normal" fill="#111" stroke="#111" stroke-width="0.3" textLength="66.7" lengthAdjust="spacingAndGlyphs">lam. parketta</text>
<text x="572.6" y="138" font-size="11" font-weight="normal" font-style="normal" fill="#111" stroke="#111" stroke-width="0.3" textLength="38.4" lengthAdjust="spacingAndGlyphs">2,65 m²</text>
<text x="332" y="27" font-size="13" font-weight="bold" font-style="normal" fill="#111" stroke="#111" stroke-width="0.05" textLength="25.5" lengthAdjust="spacingAndGlyphs">Zuh.</text>
<text x="318.8" y="39" font-size="11" font-weight="normal" font-style="normal" fill="#111" stroke="#111" stroke-width="0.3" textLength="54.2" lengthAdjust="spacingAndGlyphs">m. kerámia</text>
<text x="326" y="51.6" font-size="11" font-weight="normal" font-style="normal" fill="#111" stroke="#111" stroke-width="0.3" textLength="38.7" lengthAdjust="spacingAndGlyphs">3,60 m²</text>
<text x="408.5" y="27" font-size="13" font-weight="bold" font-style="normal" fill="#111" stroke="#111" stroke-width="0.05" textLength="24.5" lengthAdjust="spacingAndGlyphs">Zuh.</text>
<text x="395" y="39" font-size="11" font-weight="normal" font-style="normal" fill="#111" stroke="#111" stroke-width="0.3" textLength="52.0" lengthAdjust="spacingAndGlyphs">m. kerámia</text>
<text x="402.8" y="51.6" font-size="11" font-weight="normal" font-style="normal" fill="#111" stroke="#111" stroke-width="0.3" textLength="38.2" lengthAdjust="spacingAndGlyphs">3,60 m²</text>
<text x="303.8" y="60.4" font-size="11" font-weight="normal" font-style="normal" fill="#111" stroke="#111" stroke-width="0.3" textLength="44.0" lengthAdjust="spacingAndGlyphs">Ø 150 mm</text>
<text x="304" y="71" font-size="10.5" font-weight="normal" font-style="italic" fill="#111" stroke="#111" stroke-width="0.3" textLength="21.0" lengthAdjust="spacingAndGlyphs">szell.</text>
<text x="420.6" y="60.4" font-size="11" font-weight="normal" font-style="normal" fill="#111" stroke="#111" stroke-width="0.3" textLength="43.2" lengthAdjust="spacingAndGlyphs">Ø 150 mm</text>
<text x="419.7" y="71" font-size="10.5" font-weight="normal" font-style="italic" fill="#111" stroke="#111" stroke-width="0.3" textLength="22.3" lengthAdjust="spacingAndGlyphs">szell.</text>
<text x="328.2" y="100.2" font-size="11" font-weight="bold" font-style="normal" fill="#111" stroke="#111" stroke-width="0.05" textLength="30.8" lengthAdjust="spacingAndGlyphs">Kamra</text>
<text x="323" y="112.2" font-size="11" font-weight="normal" font-style="normal" fill="#111" stroke="#111" stroke-width="0.3" textLength="40.5" lengthAdjust="spacingAndGlyphs">lam. par.</text>
<text x="325.2" y="122.7" font-size="11" font-weight="normal" font-style="normal" fill="#111" stroke="#111" stroke-width="0.3" textLength="34.5" lengthAdjust="spacingAndGlyphs">1,44 m²</text>
<text x="400" y="100.2" font-size="11" font-weight="bold" font-style="normal" fill="#111" stroke="#111" stroke-width="0.05" textLength="30.0" lengthAdjust="spacingAndGlyphs">Kamra</text>
<text x="394.4" y="112.2" font-size="11" font-weight="normal" font-style="normal" fill="#111" stroke="#111" stroke-width="0.3" textLength="37.6" lengthAdjust="spacingAndGlyphs">lam. par.</text>
<text x="395" y="122.7" font-size="11" font-weight="normal" font-style="normal" fill="#111" stroke="#111" stroke-width="0.3" textLength="37.0" lengthAdjust="spacingAndGlyphs">1,44 m²</text>
<text x="335.7" y="139.2" font-size="11" font-weight="bold" font-style="normal" fill="#111" stroke="#111" stroke-width="0.05" textLength="32.3" lengthAdjust="spacingAndGlyphs">Lépcső</text>
<text x="332" y="150.5" font-size="11" font-weight="normal" font-style="normal" fill="#111" stroke="#111" stroke-width="0.3" textLength="39.7" lengthAdjust="spacingAndGlyphs">lam. par.</text>
<text x="333.5" y="162.5" font-size="11" font-weight="normal" font-style="normal" fill="#111" stroke="#111" stroke-width="0.3" textLength="37.5" lengthAdjust="spacingAndGlyphs">2,16 m²</text>
<text x="392" y="139.2" font-size="11" font-weight="bold" font-style="normal" fill="#111" stroke="#111" stroke-width="0.05" textLength="33.0" lengthAdjust="spacingAndGlyphs">Lépcső</text>
<text x="388.5" y="150.5" font-size="11" font-weight="normal" font-style="normal" fill="#111" stroke="#111" stroke-width="0.3" textLength="39.5" lengthAdjust="spacingAndGlyphs">lam. par.</text>
<text x="390" y="162.5" font-size="11" font-weight="normal" font-style="normal" fill="#111" stroke="#111" stroke-width="0.3" textLength="37.0" lengthAdjust="spacingAndGlyphs">2,16 m²</text>
<text x="178.75" y="230.25" font-size="12.5" font-weight="bold" font-style="normal" fill="#111" stroke="#111" stroke-width="0.05" textLength="43.5" lengthAdjust="spacingAndGlyphs">Nappali</text>
<text x="156.9" y="243" font-size="11" font-weight="normal" font-style="normal" fill="#111" stroke="#111" stroke-width="0.3" textLength="86.6" lengthAdjust="spacingAndGlyphs">laminált parketta</text>
<text x="178" y="255" font-size="11" font-weight="normal" font-style="normal" fill="#111" stroke="#111" stroke-width="0.3" textLength="43.9" lengthAdjust="spacingAndGlyphs">17,49 m²</text>
<text x="464.7" y="230.25" font-size="12.5" font-weight="bold" font-style="normal" fill="#111" stroke="#111" stroke-width="0.05" textLength="43.1" lengthAdjust="spacingAndGlyphs">Nappali</text>
<text x="443" y="243" font-size="11" font-weight="normal" font-style="normal" fill="#111" stroke="#111" stroke-width="0.3" textLength="86.4" lengthAdjust="spacingAndGlyphs">laminált parketta</text>
<text x="463.8" y="255" font-size="11" font-weight="normal" font-style="normal" fill="#111" stroke="#111" stroke-width="0.3" textLength="44.2" lengthAdjust="spacingAndGlyphs">17,49 m²</text>
<text x="295" y="369.4" font-size="12.5" font-weight="bold" font-style="normal" fill="#111" stroke="#111" stroke-width="0.05" textLength="38.6" lengthAdjust="spacingAndGlyphs">Tároló</text>
<text x="270.5" y="381.8" font-size="11" font-weight="normal" font-style="normal" fill="#111" stroke="#111" stroke-width="0.3" textLength="85.5" lengthAdjust="spacingAndGlyphs">laminált parketta</text>
<text x="295" y="393.7" font-size="11" font-weight="normal" font-style="normal" fill="#111" stroke="#111" stroke-width="0.3" textLength="34.0" lengthAdjust="spacingAndGlyphs">8,31 m²</text>
<text x="419.4" y="369.4" font-size="12.5" font-weight="bold" font-style="normal" fill="#111" stroke="#111" stroke-width="0.05" textLength="38.3" lengthAdjust="spacingAndGlyphs">Tároló</text>
<text x="394.6" y="381.8" font-size="11" font-weight="normal" font-style="normal" fill="#111" stroke="#111" stroke-width="0.3" textLength="86.4" lengthAdjust="spacingAndGlyphs">laminált parketta</text>
<text x="419.4" y="393.7" font-size="11" font-weight="normal" font-style="normal" fill="#111" stroke="#111" stroke-width="0.3" textLength="34.9" lengthAdjust="spacingAndGlyphs">8,31 m²</text>
<text x="311" y="455.6" font-size="12.5" font-weight="bold" font-style="normal" fill="#111" stroke="#111" stroke-width="0.05" textLength="33.8" lengthAdjust="spacingAndGlyphs">Kazán</text>
<text x="301" y="467.8" font-size="11" font-weight="normal" font-style="normal" fill="#111" stroke="#111" stroke-width="0.3" textLength="54.0" lengthAdjust="spacingAndGlyphs">m. kerámia</text>
<text x="308.8" y="479.7" font-size="11" font-weight="normal" font-style="normal" fill="#111" stroke="#111" stroke-width="0.3" textLength="38.2" lengthAdjust="spacingAndGlyphs">3,45 m²</text>
<text x="413.8" y="461" font-size="12.5" font-weight="bold" font-style="normal" fill="#111" stroke="#111" stroke-width="0.05" textLength="34.9" lengthAdjust="spacingAndGlyphs">Kazán</text>
<text x="403.6" y="473.6" font-size="11" font-weight="normal" font-style="normal" fill="#111" stroke="#111" stroke-width="0.3" textLength="55.2" lengthAdjust="spacingAndGlyphs">m. kerámia</text>
<text x="411.5" y="485" font-size="11" font-weight="normal" font-style="normal" fill="#111" stroke="#111" stroke-width="0.3" textLength="39.5" lengthAdjust="spacingAndGlyphs">3,45 m²</text>
<text x="150.8" y="395.3" font-size="12.5" font-weight="bold" font-style="normal" fill="#111" stroke="#111" stroke-width="0.05" textLength="39.2" lengthAdjust="spacingAndGlyphs">Terasz</text>
<text x="135" y="406.5" font-size="11" font-weight="normal" font-style="normal" fill="#111" stroke="#111" stroke-width="0.3" textLength="71.0" lengthAdjust="spacingAndGlyphs">csiszolt beton</text>
<text x="148.5" y="419" font-size="11" font-weight="normal" font-style="normal" fill="#111" stroke="#111" stroke-width="0.3" textLength="42.8" lengthAdjust="spacingAndGlyphs">13,52 m²</text>
<text x="553.8" y="410" font-size="12.5" font-weight="bold" font-style="normal" fill="#111" stroke="#111" stroke-width="0.05" textLength="40.5" lengthAdjust="spacingAndGlyphs">Terasz</text>
<text x="538" y="422.3" font-size="11" font-weight="normal" font-style="normal" fill="#111" stroke="#111" stroke-width="0.3" textLength="71.0" lengthAdjust="spacingAndGlyphs">csiszolt beton</text>
<text x="551.5" y="434.7" font-size="11" font-weight="normal" font-style="normal" fill="#111" stroke="#111" stroke-width="0.3" textLength="42.8" lengthAdjust="spacingAndGlyphs">13,52 m²</text>
<text x="56" y="156.6" font-size="11" font-weight="normal" font-style="normal" fill="#111" stroke="#111" stroke-width="0.3" textLength="27.5" lengthAdjust="spacingAndGlyphs">+0,44</text>
<text x="47.8" y="209" font-size="11" font-weight="normal" font-style="normal" fill="#111" stroke="#111" stroke-width="0.3" textLength="26.2" lengthAdjust="spacingAndGlyphs">±0,00</text>
<text x="168.9" y="158.8" font-size="11" font-weight="normal" font-style="normal" fill="#111" stroke="#111" stroke-width="0.3" textLength="22.1" lengthAdjust="spacingAndGlyphs">0,45</text>
<text x="312.9" y="261.6" font-size="11" font-weight="normal" font-style="normal" fill="#111" stroke="#111" stroke-width="0.3" textLength="21.9" lengthAdjust="spacingAndGlyphs">0,45</text>
<text x="164" y="479.7" font-size="11" font-weight="normal" font-style="normal" fill="#111" stroke="#111" stroke-width="0.3" textLength="29.5" lengthAdjust="spacingAndGlyphs">+0,44</text>
<text x="226" y="532" font-size="11" font-weight="normal" font-style="normal" fill="#111" stroke="#111" stroke-width="0.3" textLength="27.0" lengthAdjust="spacingAndGlyphs">±0,00</text>
<text x="588" y="159.7" font-size="11" font-weight="normal" font-style="normal" fill="#111" stroke="#111" stroke-width="0.3" textLength="22.5" lengthAdjust="spacingAndGlyphs">0,45</text>
<text x="699.4" y="139" font-size="11" font-weight="normal" font-style="normal" fill="#111" stroke="#111" stroke-width="0.3" textLength="25.4" lengthAdjust="spacingAndGlyphs">+0,28</text>
<text x="697.6" y="209" font-size="11" font-weight="normal" font-style="normal" fill="#111" stroke="#111" stroke-width="0.3" textLength="27.2" lengthAdjust="spacingAndGlyphs">±0,00</text>
<text x="575.3" y="261.5" font-size="11" font-weight="normal" font-style="normal" fill="#111" stroke="#111" stroke-width="0.3" textLength="21.4" lengthAdjust="spacingAndGlyphs">0,45</text>
<text x="580.8" y="479.7" font-size="11" font-weight="normal" font-style="normal" fill="#111" stroke="#111" stroke-width="0.3" textLength="28.2" lengthAdjust="spacingAndGlyphs">+0,44</text>
<text x="655" y="518.8" font-size="11" font-weight="normal" font-style="normal" fill="#111" stroke="#111" stroke-width="0.3" textLength="27.5" lengthAdjust="spacingAndGlyphs">±0,00</text>
<text x="100.5" y="36" font-size="11" font-weight="normal" font-style="normal" fill="#111" stroke="#111" stroke-width="0.3" textLength="12.7" lengthAdjust="spacingAndGlyphs">90</text>
<text x="100.5" y="51.7" font-size="11" font-weight="normal" font-style="normal" fill="#111" stroke="#111" stroke-width="0.3" textLength="17.2" lengthAdjust="spacingAndGlyphs">150</text>
<text transform="translate(140.5,42) rotate(-90)" x="0" y="0" font-size="11" text-anchor="middle" fill="#111" stroke="#111" stroke-width="0.3">m90</text>
<text x="648.8" y="36.2" font-size="11" font-weight="normal" font-style="normal" fill="#111" stroke="#111" stroke-width="0.3" textLength="13.7" lengthAdjust="spacingAndGlyphs">90</text>
<text x="645" y="52.5" font-size="11" font-weight="normal" font-style="normal" fill="#111" stroke="#111" stroke-width="0.3" textLength="17.5" lengthAdjust="spacingAndGlyphs">150</text>
<text transform="translate(631.5,38.8) rotate(-90)" x="0" y="0" font-size="11" text-anchor="middle" fill="#111" stroke="#111" stroke-width="0.3">m90</text>
<text x="96.6" y="132" font-size="11" font-weight="normal" font-style="normal" fill="#111" stroke="#111" stroke-width="0.3" textLength="17.8" lengthAdjust="spacingAndGlyphs">100</text>
<text x="95.7" y="148" font-size="11" font-weight="normal" font-style="normal" fill="#111" stroke="#111" stroke-width="0.3" textLength="17.8" lengthAdjust="spacingAndGlyphs">240</text>
<text x="210" y="132.5" font-size="11" font-weight="normal" font-style="normal" fill="#111" stroke="#111" stroke-width="0.3" textLength="17.8" lengthAdjust="spacingAndGlyphs">100</text>
<text x="208" y="148.5" font-size="11" font-weight="normal" font-style="normal" fill="#111" stroke="#111" stroke-width="0.3" textLength="19.8" lengthAdjust="spacingAndGlyphs">240</text>
<text x="536" y="132.5" font-size="11" font-weight="normal" font-style="normal" fill="#111" stroke="#111" stroke-width="0.3" textLength="16.0" lengthAdjust="spacingAndGlyphs">100</text>
<text x="536" y="148.5" font-size="11" font-weight="normal" font-style="normal" fill="#111" stroke="#111" stroke-width="0.3" textLength="16.0" lengthAdjust="spacingAndGlyphs">240</text>
<text x="647" y="132.5" font-size="11" font-weight="normal" font-style="normal" fill="#111" stroke="#111" stroke-width="0.3" textLength="17.7" lengthAdjust="spacingAndGlyphs">100</text>
<text x="647" y="148.5" font-size="11" font-weight="normal" font-style="normal" fill="#111" stroke="#111" stroke-width="0.3" textLength="18.0" lengthAdjust="spacingAndGlyphs">240</text>
<text x="280" y="57.2" font-size="11" font-weight="normal" font-style="normal" fill="#111" stroke="#111" stroke-width="0.3" textLength="12.5" lengthAdjust="spacingAndGlyphs">75</text>
<text x="275.6" y="73" font-size="11" font-weight="normal" font-style="normal" fill="#111" stroke="#111" stroke-width="0.3" textLength="17.8" lengthAdjust="spacingAndGlyphs">210</text>
<text x="472" y="57.2" font-size="11" font-weight="normal" font-style="normal" fill="#111" stroke="#111" stroke-width="0.3" textLength="13.4" lengthAdjust="spacingAndGlyphs">75</text>
<text x="472" y="73" font-size="11" font-weight="normal" font-style="normal" fill="#111" stroke="#111" stroke-width="0.3" textLength="18.0" lengthAdjust="spacingAndGlyphs">210</text>
<text x="280.2" y="102.5" font-size="11" font-weight="normal" font-style="normal" fill="#111" stroke="#111" stroke-width="0.3" textLength="12.0" lengthAdjust="spacingAndGlyphs">75</text>
<text x="275" y="118.4" font-size="11" font-weight="normal" font-style="normal" fill="#111" stroke="#111" stroke-width="0.3" textLength="17.2" lengthAdjust="spacingAndGlyphs">210</text>
<text x="474" y="102" font-size="11" font-weight="normal" font-style="normal" fill="#111" stroke="#111" stroke-width="0.3" textLength="13.0" lengthAdjust="spacingAndGlyphs">75</text>
<text x="472" y="118.6" font-size="11" font-weight="normal" font-style="normal" fill="#111" stroke="#111" stroke-width="0.3" textLength="18.0" lengthAdjust="spacingAndGlyphs">210</text>
<text transform="translate(254.0,9.4) rotate(-90)" x="0" y="0" font-size="11" text-anchor="middle" fill="#111" stroke="#111" stroke-width="0.3">30</text>
<text transform="translate(254.0,40) rotate(-90)" x="0" y="0" font-size="11" text-anchor="middle" fill="#111" stroke="#111" stroke-width="0.3">2,00</text>
<text transform="translate(255.0,75) rotate(-90)" x="0" y="0" font-size="11" text-anchor="middle" fill="#111" stroke="#111" stroke-width="0.3">10</text>
<text transform="translate(254.0,105) rotate(-90)" x="0" y="0" font-size="11" text-anchor="middle" fill="#111" stroke="#111" stroke-width="0.3">80</text>
<text transform="translate(254.5,131) rotate(-90)" x="0" y="0" font-size="11" text-anchor="middle" fill="#111" stroke="#111" stroke-width="0.3">5</text>
<text transform="translate(246.0,174.7) rotate(-90)" x="0" y="0" font-size="11" text-anchor="middle" fill="#111" stroke="#111" stroke-width="0.3">200</text>
<text transform="translate(262.8,175.7) rotate(-90)" x="0" y="0" font-size="11" text-anchor="middle" fill="#111" stroke="#111" stroke-width="0.3">240</text>
<text transform="translate(253.4,216) rotate(-90)" x="0" y="0" font-size="11" text-anchor="middle" fill="#111" stroke="#111" stroke-width="0.3">4,05</text>
<text transform="translate(535.0,7) rotate(-90)" x="0" y="0" font-size="11" text-anchor="middle" fill="#111" stroke="#111" stroke-width="0.3">30</text>
<text transform="translate(532.5,156) rotate(-90)" x="0" y="0" font-size="11" text-anchor="middle" fill="#111" stroke="#111" stroke-width="0.3">7,00</text>
<text transform="translate(508.0,175.7) rotate(-90)" x="0" y="0" font-size="11" text-anchor="middle" fill="#111" stroke="#111" stroke-width="0.3">200</text>
<text transform="translate(524.0,175.7) rotate(-90)" x="0" y="0" font-size="11" text-anchor="middle" fill="#111" stroke="#111" stroke-width="0.3">240</text>
<text x="102" y="193.5" font-size="11" font-weight="normal" font-style="normal" fill="#111" stroke="#111" stroke-width="0.3" textLength="12.4" lengthAdjust="spacingAndGlyphs">24</text>
<text x="149" y="193.5" font-size="11" font-weight="normal" font-style="normal" fill="#111" stroke="#111" stroke-width="0.3" textLength="20.8" lengthAdjust="spacingAndGlyphs">1,70</text>
<text x="187.5" y="193.5" font-size="11" font-weight="normal" font-style="normal" fill="#111" stroke="#111" stroke-width="0.3" textLength="11.3" lengthAdjust="spacingAndGlyphs">10</text>
<text x="226" y="193.5" font-size="11" font-weight="normal" font-style="normal" fill="#111" stroke="#111" stroke-width="0.3" textLength="19.7" lengthAdjust="spacingAndGlyphs">1,37</text>
<text x="302" y="193.5" font-size="11" font-weight="normal" font-style="normal" fill="#111" stroke="#111" stroke-width="0.3" textLength="21.5" lengthAdjust="spacingAndGlyphs">2,53</text>
<text x="357.5" y="193.5" font-size="11" font-weight="normal" font-style="normal" fill="#111" stroke="#111" stroke-width="0.3" textLength="13.1" lengthAdjust="spacingAndGlyphs">30</text>
<text x="429.7" y="193.5" font-size="11" font-weight="normal" font-style="normal" fill="#111" stroke="#111" stroke-width="0.3" textLength="21.6" lengthAdjust="spacingAndGlyphs">2,53</text>
<text x="508.8" y="193.5" font-size="11" font-weight="normal" font-style="normal" fill="#111" stroke="#111" stroke-width="0.3" textLength="19.7" lengthAdjust="spacingAndGlyphs">1,37</text>
<text x="539.7" y="193.5" font-size="11" font-weight="normal" font-style="normal" fill="#111" stroke="#111" stroke-width="0.3" textLength="10.3" lengthAdjust="spacingAndGlyphs">10</text>
<text x="578" y="193.5" font-size="11" font-weight="normal" font-style="normal" fill="#111" stroke="#111" stroke-width="0.3" textLength="20.8" lengthAdjust="spacingAndGlyphs">1,70</text>
<text x="616" y="193.5" font-size="11" font-weight="normal" font-style="normal" fill="#111" stroke="#111" stroke-width="0.3" textLength="12.0" lengthAdjust="spacingAndGlyphs">24</text>
<text x="98.8" y="230" font-size="11" font-weight="normal" font-style="normal" fill="#111" stroke="#111" stroke-width="0.3" textLength="16.8" lengthAdjust="spacingAndGlyphs">120</text>
<text x="98.8" y="246" font-size="11" font-weight="normal" font-style="normal" fill="#111" stroke="#111" stroke-width="0.3" textLength="16.8" lengthAdjust="spacingAndGlyphs">150</text>
<text transform="translate(140.3,236.6) rotate(-90)" x="0" y="0" font-size="11" text-anchor="middle" fill="#111" stroke="#111" stroke-width="0.3">m90</text>
<text x="644" y="230.4" font-size="11" font-weight="normal" font-style="normal" fill="#111" stroke="#111" stroke-width="0.3" textLength="17.0" lengthAdjust="spacingAndGlyphs">120</text>
<text x="644" y="246" font-size="11" font-weight="normal" font-style="normal" fill="#111" stroke="#111" stroke-width="0.3" textLength="17.0" lengthAdjust="spacingAndGlyphs">150</text>
<text transform="translate(631.0,231.5) rotate(-90)" x="0" y="0" font-size="11" text-anchor="middle" fill="#111" stroke="#111" stroke-width="0.3">m90</text>
<text transform="translate(157.0,320) rotate(-90)" x="0" y="0" font-size="11" text-anchor="middle" fill="#111" stroke="#111" stroke-width="0.3">90</text>
<text transform="translate(172.0,322) rotate(-90)" x="0" y="0" font-size="11" text-anchor="middle" fill="#111" stroke="#111" stroke-width="0.3">240</text>
<text transform="translate(268.5,285) rotate(-90)" x="0" y="0" font-size="11" text-anchor="middle" fill="#111" stroke="#111" stroke-width="0.3">90</text>
<text transform="translate(285.2,285) rotate(-90)" x="0" y="0" font-size="11" text-anchor="middle" fill="#111" stroke="#111" stroke-width="0.3">210</text>
<text transform="translate(480.0,284) rotate(-90)" x="0" y="0" font-size="11" text-anchor="middle" fill="#111" stroke="#111" stroke-width="0.3">90</text>
<text transform="translate(497.0,287) rotate(-90)" x="0" y="0" font-size="11" text-anchor="middle" fill="#111" stroke="#111" stroke-width="0.3">210</text>
<text transform="translate(593.0,320.5) rotate(-90)" x="0" y="0" font-size="11" text-anchor="middle" fill="#111" stroke="#111" stroke-width="0.3">90</text>
<text transform="translate(608.5,322.7) rotate(-90)" x="0" y="0" font-size="11" text-anchor="middle" fill="#111" stroke="#111" stroke-width="0.3">240</text>
<text transform="translate(531.0,319) rotate(-90)" x="0" y="0" font-size="11" text-anchor="middle" fill="#111" stroke="#111" stroke-width="0.3">24</text>
<text x="224" y="371.6" font-size="11" font-weight="normal" font-style="normal" fill="#111" stroke="#111" stroke-width="0.3" textLength="17.0" lengthAdjust="spacingAndGlyphs">120</text>
<text x="224" y="387.4" font-size="11" font-weight="normal" font-style="normal" fill="#111" stroke="#111" stroke-width="0.3" textLength="17.0" lengthAdjust="spacingAndGlyphs">150</text>
<text transform="translate(264.0,377) rotate(-90)" x="0" y="0" font-size="11" text-anchor="middle" fill="#111" stroke="#111" stroke-width="0.3">m90</text>
<text x="515" y="371.6" font-size="11" font-weight="normal" font-style="normal" fill="#111" stroke="#111" stroke-width="0.3" textLength="18.0" lengthAdjust="spacingAndGlyphs">120</text>
<text x="515" y="387.4" font-size="11" font-weight="normal" font-style="normal" fill="#111" stroke="#111" stroke-width="0.3" textLength="18.0" lengthAdjust="spacingAndGlyphs">150</text>
<text transform="translate(501.0,374) rotate(-90)" x="0" y="0" font-size="11" text-anchor="middle" fill="#111" stroke="#111" stroke-width="0.3">m90</text>
<text x="260" y="458" font-size="11" font-weight="normal" font-style="normal" fill="#111" stroke="#111" stroke-width="0.3" textLength="12.8" lengthAdjust="spacingAndGlyphs">90</text>
<text x="254.8" y="474" font-size="11" font-weight="normal" font-style="normal" fill="#111" stroke="#111" stroke-width="0.3" textLength="18.0" lengthAdjust="spacingAndGlyphs">210</text>
<text x="481.3" y="458" font-size="11" font-weight="normal" font-style="normal" fill="#111" stroke="#111" stroke-width="0.3" textLength="12.4" lengthAdjust="spacingAndGlyphs">90</text>
<text x="480" y="474" font-size="11" font-weight="normal" font-style="normal" fill="#111" stroke="#111" stroke-width="0.3" textLength="18.0" lengthAdjust="spacingAndGlyphs">210</text>
<text x="302.6" y="493.6" font-size="9.5" font-weight="normal" font-style="normal" fill="#111" stroke="#111" stroke-width="0.3" textLength="22.4" lengthAdjust="spacingAndGlyphs">m1,80</text>
<text x="426.7" y="493.6" font-size="9.5" font-weight="normal" font-style="normal" fill="#111" stroke="#111" stroke-width="0.3" textLength="23.3" lengthAdjust="spacingAndGlyphs">m1,80</text>
<text transform="translate(308.8,517) rotate(-90)" x="0" y="0" font-size="11" text-anchor="middle" fill="#111" stroke="#111" stroke-width="0.3">120</text>
<text transform="translate(325.7,518.4) rotate(-90)" x="0" y="0" font-size="11" text-anchor="middle" fill="#111" stroke="#111" stroke-width="0.3">60</text>
<text transform="translate(436.3,517) rotate(-90)" x="0" y="0" font-size="11" text-anchor="middle" fill="#111" stroke="#111" stroke-width="0.3">120</text>
<text transform="translate(452.0,518) rotate(-90)" x="0" y="0" font-size="11" text-anchor="middle" fill="#111" stroke="#111" stroke-width="0.3">60</text>
<text transform="translate(278.5,617.5) rotate(-90)" x="0" y="0" font-size="14" text-anchor="middle" fill="#111" stroke="#111" stroke-width="0.3">B</text>
<text x="0.5" y="675.5" font-size="15" font-weight="bold" font-style="italic" fill="#000">k</text>
<line x1="112.4" y1="652.5" x2="637.5" y2="652.5" stroke="#1a1a1a" stroke-width="1.1"/>
<line x1="112.4" y1="672.3" x2="637.5" y2="672.3" stroke="#1a1a1a" stroke-width="1.1"/>
<line x1="112.4" y1="691.4" x2="637.5" y2="691.4" stroke="#1a1a1a" stroke-width="1.1"/>
<line x1="112.4" y1="710.5" x2="637.5" y2="710.5" stroke="#1a1a1a" stroke-width="1.1"/>
<line x1="112.4" y1="637" x2="112.4" y2="715" stroke="#1a1a1a" stroke-width="1.1"/>
<line x1="637.5" y1="637" x2="637.5" y2="715" stroke="#1a1a1a" stroke-width="1.1"/>
<line x1="248.6" y1="637" x2="248.6" y2="697" stroke="#1a1a1a" stroke-width="1.1"/>
<line x1="500" y1="637" x2="500" y2="697" stroke="#1a1a1a" stroke-width="1.1"/>
<line x1="368" y1="635" x2="368" y2="697" stroke="#1a1a1a" stroke-width="1.1"/>
<line x1="380.3" y1="635" x2="380.3" y2="697" stroke="#1a1a1a" stroke-width="1.1"/>
<line x1="156.3" y1="637" x2="156.3" y2="658" stroke="#1a1a1a" stroke-width="1.1"/>
<line x1="311.6" y1="637" x2="311.6" y2="658" stroke="#1a1a1a" stroke-width="1.1"/>
<line x1="436.5" y1="637" x2="436.5" y2="658" stroke="#1a1a1a" stroke-width="1.1"/>
<line x1="592.5" y1="637" x2="592.5" y2="658" stroke="#1a1a1a" stroke-width="1.1"/>
<line x1="122.5" y1="656" x2="122.5" y2="678" stroke="#1a1a1a" stroke-width="1.1"/>
<line x1="238.4" y1="656" x2="238.4" y2="678" stroke="#1a1a1a" stroke-width="1.1"/>
<line x1="510" y1="656" x2="510" y2="678" stroke="#1a1a1a" stroke-width="1.1"/>
<line x1="626.25" y1="656" x2="626.25" y2="678" stroke="#1a1a1a" stroke-width="1.1"/>
<text x="123.6" y="650" font-size="11" font-weight="normal" font-style="normal" fill="#111" stroke="#111" stroke-width="0.3" textLength="21.4" lengthAdjust="spacingAndGlyphs">1,02</text>
<text x="192.3" y="650" font-size="11" font-weight="normal" font-style="normal" fill="#111" stroke="#111" stroke-width="0.3" textLength="21.4" lengthAdjust="spacingAndGlyphs">2,16</text>
<text x="270" y="650" font-size="11" font-weight="normal" font-style="normal" fill="#111" stroke="#111" stroke-width="0.3" textLength="21.0" lengthAdjust="spacingAndGlyphs">1,46</text>
<text x="329.6" y="650" font-size="11" font-weight="normal" font-style="normal" fill="#111" stroke="#111" stroke-width="0.3" textLength="20.4" lengthAdjust="spacingAndGlyphs">1,30</text>
<text x="398" y="650" font-size="11" font-weight="normal" font-style="normal" fill="#111" stroke="#111" stroke-width="0.3" textLength="21.7" lengthAdjust="spacingAndGlyphs">1,30</text>
<text x="458.75" y="650" font-size="11" font-weight="normal" font-style="normal" fill="#111" stroke="#111" stroke-width="0.3" textLength="20.0" lengthAdjust="spacingAndGlyphs">1,46</text>
<text x="536" y="650" font-size="11" font-weight="normal" font-style="normal" fill="#111" stroke="#111" stroke-width="0.3" textLength="21.5" lengthAdjust="spacingAndGlyphs">2,16</text>
<text x="605" y="650" font-size="11" font-weight="normal" font-style="normal" fill="#111" stroke="#111" stroke-width="0.3" textLength="20.0" lengthAdjust="spacingAndGlyphs">1,02</text>
<text x="369" y="640.8" font-size="11" font-weight="normal" font-style="normal" fill="#111" stroke="#111" stroke-width="0.3" textLength="12.5" lengthAdjust="spacingAndGlyphs">30</text>
<text x="96" y="670" font-size="11" font-weight="normal" font-style="normal" fill="#111" stroke="#111" stroke-width="0.3" textLength="13.0" lengthAdjust="spacingAndGlyphs">24</text>
<text x="164" y="670" font-size="11" font-weight="normal" font-style="normal" fill="#111" stroke="#111" stroke-width="0.3" textLength="21.5" lengthAdjust="spacingAndGlyphs">2,70</text>
<text x="222.6" y="670" font-size="11" font-weight="normal" font-style="normal" fill="#111" stroke="#111" stroke-width="0.3" textLength="13.4" lengthAdjust="spacingAndGlyphs">24</text>
<text x="291.4" y="670" font-size="11" font-weight="normal" font-style="normal" fill="#111" stroke="#111" stroke-width="0.3" textLength="21.4" lengthAdjust="spacingAndGlyphs">2,76</text>
<text x="352" y="670" font-size="11" font-weight="normal" font-style="normal" fill="#111" stroke="#111" stroke-width="0.3" textLength="13.7" lengthAdjust="spacingAndGlyphs">30</text>
<text x="423" y="670" font-size="11" font-weight="normal" font-style="normal" fill="#111" stroke="#111" stroke-width="0.3" textLength="21.5" lengthAdjust="spacingAndGlyphs">2,76</text>
<text x="483.75" y="670" font-size="11" font-weight="normal" font-style="normal" fill="#111" stroke="#111" stroke-width="0.3" textLength="12.2" lengthAdjust="spacingAndGlyphs">24</text>
<text x="551" y="670" font-size="11" font-weight="normal" font-style="normal" fill="#111" stroke="#111" stroke-width="0.3" textLength="22.8" lengthAdjust="spacingAndGlyphs">2,70</text>
<text x="610" y="670" font-size="11" font-weight="normal" font-style="normal" fill="#111" stroke="#111" stroke-width="0.3" textLength="12.5" lengthAdjust="spacingAndGlyphs">24</text>
<text x="171" y="690" font-size="11" font-weight="normal" font-style="normal" fill="#111" stroke="#111" stroke-width="0.3" textLength="20.0" lengthAdjust="spacingAndGlyphs">3,18</text>
<text x="291.4" y="690" font-size="11" font-weight="normal" font-style="normal" fill="#111" stroke="#111" stroke-width="0.3" textLength="21.4" lengthAdjust="spacingAndGlyphs">2,76</text>
<text x="352" y="690" font-size="11" font-weight="normal" font-style="normal" fill="#111" stroke="#111" stroke-width="0.3" textLength="14.0" lengthAdjust="spacingAndGlyphs">30</text>
<text x="428.7" y="690" font-size="11" font-weight="normal" font-style="normal" fill="#111" stroke="#111" stroke-width="0.3" textLength="21.3" lengthAdjust="spacingAndGlyphs">2,76</text>
<text x="558.75" y="690" font-size="11" font-weight="normal" font-style="normal" fill="#111" stroke="#111" stroke-width="0.3" textLength="20.0" lengthAdjust="spacingAndGlyphs">3,18</text>
<text x="361" y="708.3" font-size="11" font-weight="normal" font-style="normal" fill="#111" stroke="#111" stroke-width="0.3" textLength="25.0" lengthAdjust="spacingAndGlyphs">12,18</text>
<line x1="117.5" y1="201.2" x2="126.5" y2="192.2" stroke="#000" stroke-width="1.6"/>
<line x1="124.9" y1="201.2" x2="133.9" y2="192.2" stroke="#000" stroke-width="1.6"/>
<line x1="197.3" y1="201.2" x2="206.3" y2="192.2" stroke="#000" stroke-width="1.6"/>
<line x1="201.3" y1="201.2" x2="210.3" y2="192.2" stroke="#000" stroke-width="1.6"/>
<line x1="259.9" y1="201.2" x2="268.9" y2="192.2" stroke="#000" stroke-width="1.6"/>
<line x1="368.4" y1="201.2" x2="377.4" y2="192.2" stroke="#000" stroke-width="1.6"/>
<line x1="382.7" y1="201.2" x2="391.7" y2="192.2" stroke="#000" stroke-width="1.6"/>
<line x1="490.2" y1="201.2" x2="499.2" y2="192.2" stroke="#000" stroke-width="1.6"/>
<line x1="550.4" y1="201.2" x2="559.4" y2="192.2" stroke="#000" stroke-width="1.6"/>
<line x1="554.2" y1="201.2" x2="563.2" y2="192.2" stroke="#000" stroke-width="1.6"/>
<line x1="627.5" y1="201.2" x2="636.5" y2="192.2" stroke="#000" stroke-width="1.6"/>
<line x1="638.5" y1="201.2" x2="647.5" y2="192.2" stroke="#000" stroke-width="1.6"/>
<line x1="252" y1="89.6" x2="260" y2="81.6" stroke="#000" stroke-width="1.6"/>
<line x1="252" y1="92.4" x2="260" y2="84.4" stroke="#000" stroke-width="1.6"/>
<line x1="251.3" y1="127" x2="259.3" y2="119" stroke="#000" stroke-width="1.6"/>
<line x1="249.8" y1="303.5" x2="257.8" y2="295.5" stroke="#000" stroke-width="1.6"/>
<line x1="249.8" y1="313" x2="257.8" y2="305" stroke="#000" stroke-width="1.6"/>
<line x1="528.5" y1="303.5" x2="536.5" y2="295.5" stroke="#000" stroke-width="1.6"/>
<line x1="528.5" y1="313" x2="536.5" y2="305" stroke="#000" stroke-width="1.6"/>
<line x1="107.9" y1="657.0" x2="116.9" y2="648.0" stroke="#000" stroke-width="1.6"/>
<line x1="151.8" y1="657.0" x2="160.8" y2="648.0" stroke="#000" stroke-width="1.6"/>
<line x1="244.1" y1="657.0" x2="253.1" y2="648.0" stroke="#000" stroke-width="1.6"/>
<line x1="307.1" y1="657.0" x2="316.1" y2="648.0" stroke="#000" stroke-width="1.6"/>
<line x1="363.5" y1="657.0" x2="372.5" y2="648.0" stroke="#000" stroke-width="1.6"/>
<line x1="375.8" y1="657.0" x2="384.8" y2="648.0" stroke="#000" stroke-width="1.6"/>
<line x1="432.0" y1="657.0" x2="441.0" y2="648.0" stroke="#000" stroke-width="1.6"/>
<line x1="495.5" y1="657.0" x2="504.5" y2="648.0" stroke="#000" stroke-width="1.6"/>
<line x1="588.0" y1="657.0" x2="597.0" y2="648.0" stroke="#000" stroke-width="1.6"/>
<line x1="633.0" y1="657.0" x2="642.0" y2="648.0" stroke="#000" stroke-width="1.6"/>
<line x1="107.9" y1="676.8" x2="116.9" y2="667.8" stroke="#000" stroke-width="1.6"/>
<line x1="118.0" y1="676.8" x2="127.0" y2="667.8" stroke="#000" stroke-width="1.6"/>
<line x1="233.9" y1="676.8" x2="242.9" y2="667.8" stroke="#000" stroke-width="1.6"/>
<line x1="244.1" y1="676.8" x2="253.1" y2="667.8" stroke="#000" stroke-width="1.6"/>
<line x1="363.5" y1="676.8" x2="372.5" y2="667.8" stroke="#000" stroke-width="1.6"/>
<line x1="375.8" y1="676.8" x2="384.8" y2="667.8" stroke="#000" stroke-width="1.6"/>
<line x1="495.5" y1="676.8" x2="504.5" y2="667.8" stroke="#000" stroke-width="1.6"/>
<line x1="505.5" y1="676.8" x2="514.5" y2="667.8" stroke="#000" stroke-width="1.6"/>
<line x1="621.75" y1="676.8" x2="630.75" y2="667.8" stroke="#000" stroke-width="1.6"/>
<line x1="633.0" y1="676.8" x2="642.0" y2="667.8" stroke="#000" stroke-width="1.6"/>
<line x1="107.9" y1="695.9" x2="116.9" y2="686.9" stroke="#000" stroke-width="1.6"/>
<line x1="244.1" y1="695.9" x2="253.1" y2="686.9" stroke="#000" stroke-width="1.6"/>
<line x1="363.5" y1="695.9" x2="372.5" y2="686.9" stroke="#000" stroke-width="1.6"/>
<line x1="375.8" y1="695.9" x2="384.8" y2="686.9" stroke="#000" stroke-width="1.6"/>
<line x1="495.5" y1="695.9" x2="504.5" y2="686.9" stroke="#000" stroke-width="1.6"/>
<line x1="633.0" y1="695.9" x2="642.0" y2="686.9" stroke="#000" stroke-width="1.6"/>
<line x1="107.9" y1="715.0" x2="116.9" y2="706.0" stroke="#000" stroke-width="1.6"/>
<line x1="633.0" y1="715.0" x2="642.0" y2="706.0" stroke="#000" stroke-width="1.6"/>
</g></svg></body></html>
